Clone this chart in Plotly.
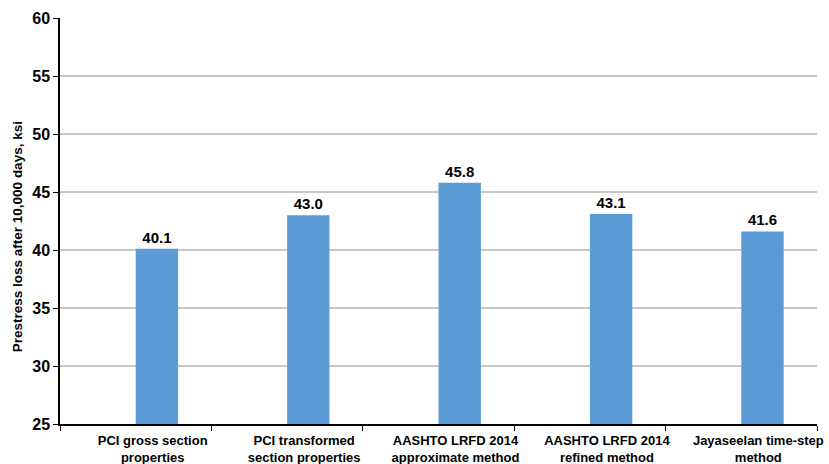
import plotly.graph_objects as go

categories = ["PCI gross section<br>properties", "PCI transformed<br>section properties",
              "AASHTO LRFD 2014<br>approximate method", "AASHTO LRFD 2014<br>refined method",
              "Jayaseelan time-step<br>method"]
values = [40.1, 43.0, 45.8, 43.1, 41.6]
labels = ["40.1", "43.0", "45.8", "43.1", "41.6"]
y_title = "Prestress loss after 10,000 days, ksi"

font_family = "Liberation Sans, Arial, sans-serif"

fig = go.Figure(go.Bar(
    x=categories, y=values, text=labels, textposition="outside",
    textfont=dict(family=font_family, size=15, color="black", weight="bold"),
    marker=dict(color="#5B9BD5", line=dict(width=0)),
    offset=0, width=0.28,
    cliponaxis=False,
))

fig.update_layout(
    width=829, height=464,
    margin=dict(l=60, r=12, t=18, b=40),
    plot_bgcolor="white", paper_bgcolor="white",
    showlegend=False,
    font=dict(family=font_family, color="black"),
    annotations=[dict(
        text=y_title, textangle=-90, showarrow=False,
        xref="paper", yref="paper", x=0, y=0.46, xanchor="center", yanchor="middle",
        xshift=-43,
        font=dict(family=font_family, size=13.5, color="black", weight="bold"),
    )],
)
fig.update_xaxes(
    showline=True, linecolor="black", linewidth=1.5,
    ticks="outside", tickson="boundaries", ticklen=5, tickcolor="black",
    tickfont=dict(family=font_family, size=13, color="black", weight="bold"),
    ticklabelshift=17, ticklabelstandoff=4,
    showgrid=False, automargin=False, layer="above traces",
)
fig.update_yaxes(
    range=[25, 60], dtick=5, tick0=25,
    showline=True, linecolor="black", linewidth=1.5,
    ticks="outside", ticklen=5, tickcolor="black",
    tickfont=dict(family=font_family, size=16, color="black", weight="bold"),
    showgrid=True, gridcolor="#C8C8C8", gridwidth=1.5,
    zeroline=False, automargin=False, layer="below traces",
)

fig.write_html("out.html", config={"displayModeBar": False},
               post_script="document.body.style.margin='0px';document.body.style.padding='0px';")
